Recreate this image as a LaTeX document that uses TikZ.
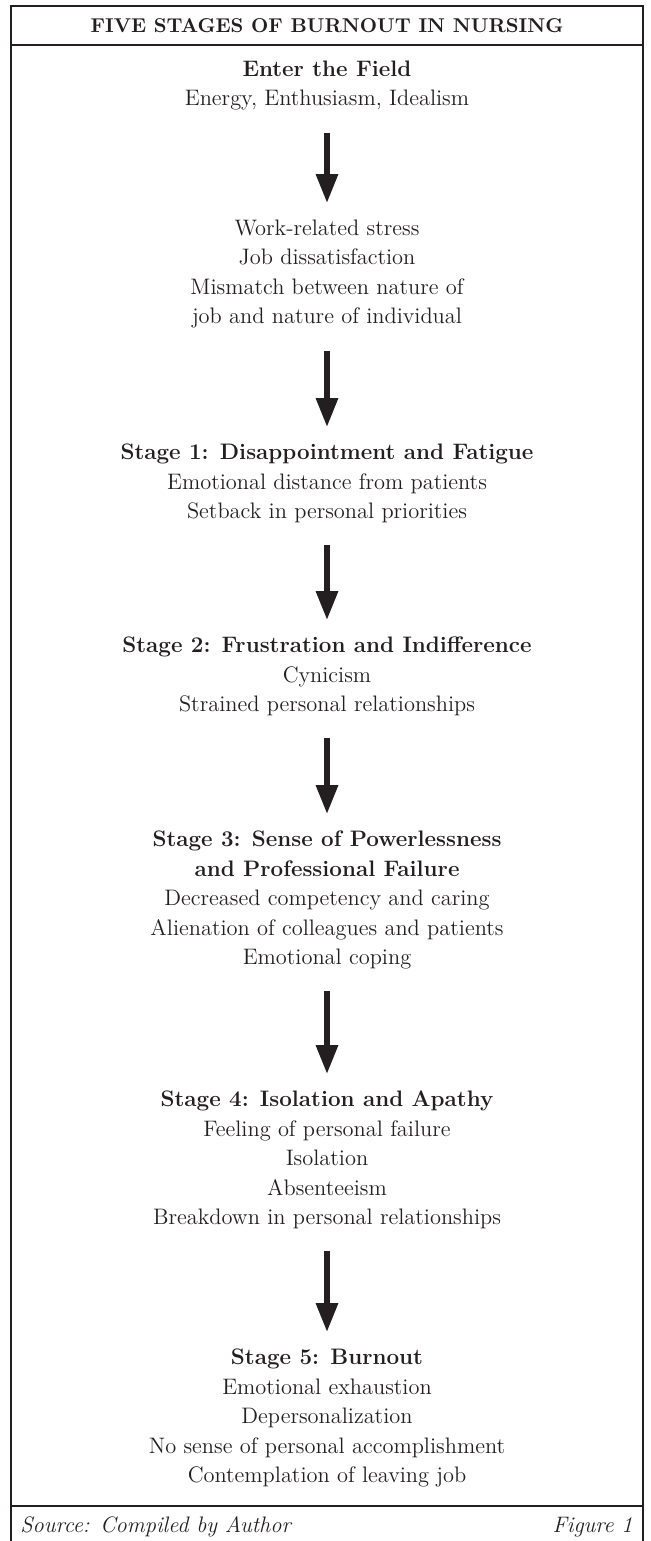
\documentclass[tikz,border=0pt]{standalone}
\usetikzlibrary{positioning,arrows.meta}
\definecolor{ink}{RGB}{35,31,32}

\begin{document}
\begin{tikzpicture}[x = 0.5pt, y = -0.5pt, >={Triangle[width=10.5pt,length=14.5pt]},
		txt/.style = {align = center, inner sep = 0pt, text = ink, font = \fontsize{11.2}{14.75}\selectfont},
		flow/.style = {->, draw = ink, line width = 3pt, shorten <= 10.8pt, shorten >= 8.2pt}]
		\useasboundingbox (0,0) rectangle (650,1541);
		\draw[ink, line width = 1pt] (11,1545) -- (11,6) -- (643,6) -- (643,1545);
		\draw[ink, line width = 1.3pt] (11,45) -- (643,45);
		\draw[ink, line width = 0.7pt] (11,1506) -- (643,1506);
		\node (title) at (327,33) [txt, anchor = base, font = \fontsize{10}{15}\selectfont\bfseries] {FIVE STAGES OF BURNOUT IN NURSING};
		\node (field) at (327,60.5) [txt, anchor = north] {\textbf{Enter the Field}\\ Energy, Enthusiasm, Idealism};
		\node (stress) at (327,219.5) [txt, anchor = north] {Work-related stress\\ Job dissatisfaction\\ Mismatch between nature of\\ job and nature of individual};
		\node (fatigue) at (327,443.5) [txt, anchor = north] {\textbf{Stage 1: Disappointment and Fatigue}\\ Emotional distance from patients\\ Setback in personal priorities};
		\node (indiff) at (327,636.5) [txt, anchor = north] {\textbf{Stage 2: Frustration and Indifference}\\ Cynicism\\ Strained personal relationships};
		\node (power) at (327,830.5) [txt, anchor = north] {\textbf{Stage 3: Sense of Powerlessness}\\ \textbf{and Professional Failure}\\ Decreased competency and caring\\ Alienation of colleagues and patients\\ Emotional coping};
		\node (apathy) at (327,1090.5) [txt, anchor = north] {\textbf{Stage 4: Isolation and Apathy}\\ Feeling of personal failure\\ Isolation\\ Absenteeism\\ Breakdown in personal relationships};
		\node (burnout) at (327,1348.5) [txt, anchor = north] {\textbf{Stage 5: Burnout}\\ Emotional exhaustion\\ Depersonalization\\ No sense of personal accomplishment\\ Contemplation of leaving job};
		\draw[flow] (field) -- (stress);
		\draw[flow] (stress) -- (fatigue);
		\draw[flow] (fatigue) -- (indiff);
		\draw[flow] (indiff) -- (power);
		\draw[flow] (power) -- (apathy);
		\draw[flow] (apathy) -- (burnout);
		\node (source) at (20,1532) [txt, anchor = base west, font = \fontsize{11.2}{15}\selectfont\itshape] {Source: Compiled by Author};
		\node (figno) at (633,1532) [txt, anchor = base east, font = \fontsize{11.2}{15}\selectfont\itshape] {Figure 1};
	\end{tikzpicture}
\end{document}
